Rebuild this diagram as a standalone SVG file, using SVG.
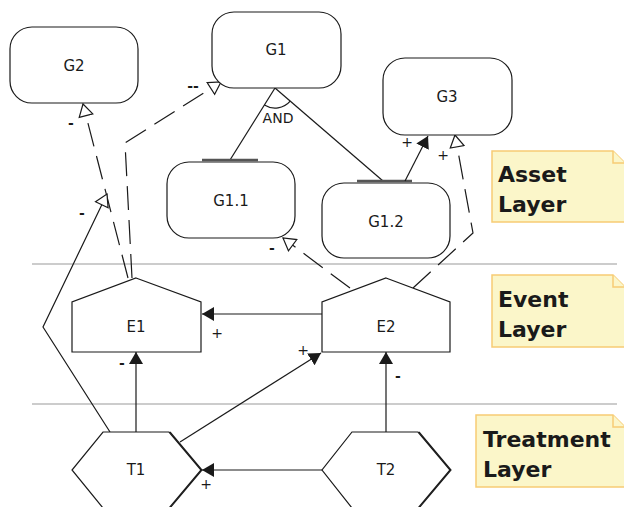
<svg xmlns="http://www.w3.org/2000/svg" width="624" height="507" viewBox="0 0 624 507">
  <style>
    .node { fill: #ffffff; stroke: #1a1a1a; stroke-width: 1.2; }
    .lbl { font-family: "DejaVu Sans", Verdana, sans-serif; font-size: 15px; fill: #1a1a1a; text-anchor: middle; dominant-baseline: central; }
    .sm { font-family: "DejaVu Sans", Verdana, sans-serif; font-size: 14px; fill: #1a1a1a; text-anchor: middle; dominant-baseline: central; }
    .neg { font-weight: bold; }
    .edge { fill: none; stroke: #1a1a1a; stroke-width: 1.2; }
    .dash { stroke-dasharray: 24 10; }
    .bar { stroke: #555555; stroke-width: 2.5; }
    .sep { stroke: #cccccc; stroke-width: 2; }
    .note { fill: #fbf6c9; stroke: #f7cc74; stroke-width: 1.5; }
    .notetxt { font-family: "DejaVu Sans", Verdana, sans-serif; font-size: 22px; font-weight: bold; fill: #1a1a1a; }
  </style>
  <defs>
    <marker id="filled" viewBox="0 0 12 14" refX="12" refY="7" markerWidth="12" markerHeight="14" markerUnits="userSpaceOnUse" orient="auto">
      <path d="M0,0 L12,7 L0,14 Z" fill="#1a1a1a"/>
    </marker>
    <marker id="hollow" viewBox="-1 -1 14 16" refX="12" refY="7" markerWidth="14" markerHeight="16" markerUnits="userSpaceOnUse" orient="auto">
      <path d="M0,0 L12,7 L0,14 Z" fill="#ffffff" stroke="#1a1a1a" stroke-width="1.2"/>
    </marker>
  </defs>

  <rect width="624" height="507" fill="#ffffff"/>

  <!-- layer separators -->
  <line class="sep" x1="32" y1="264" x2="617" y2="264"/>
  <line class="sep" x1="32" y1="404" x2="617" y2="404"/>

  <!-- layer notes -->
  <g id="note-asset">
    <path class="note" d="M492,151 H613 L625,163 V222 H492 Z"/>
    <path class="note" d="M613,151 V163 H625" fill="none"/>
    <text class="notetxt" x="498" y="182">Asset</text>
    <text class="notetxt" x="498" y="212">Layer</text>
  </g>
  <g id="note-event">
    <path class="note" d="M492,275 H613 L625,287 V347 H492 Z"/>
    <path class="note" d="M613,275 V287 H625" fill="none"/>
    <text class="notetxt" x="498" y="307">Event</text>
    <text class="notetxt" x="498" y="337">Layer</text>
  </g>
  <g id="note-treatment">
    <path class="note" d="M476,415 H613 L625,427 V487 H476 Z"/>
    <path class="note" d="M613,415 V427 H625" fill="none"/>
    <text class="notetxt" x="483" y="447">Treatment</text>
    <text class="notetxt" x="483" y="477">Layer</text>
  </g>

  <!-- connectors -->
  <g id="connectors">
    <!-- AND decomposition of G1 -->
    <line class="edge" x1="275" y1="88" x2="230" y2="160"/>
    <line class="edge" x1="275" y1="88" x2="383" y2="181"/>
    <path class="edge" d="M264.4,105 A20,20 0 0 0 290.2,101.1"/>
    <line class="edge bar" x1="202" y1="160" x2="258" y2="160"/>
    <line class="edge bar" x1="357" y1="181" x2="412" y2="181"/>

    <!-- G1.2 -> G3 -->
    <line class="edge" x1="405" y1="181" x2="428" y2="136" marker-end="url(#filled)"/>

    <!-- E1 -> G2 -->
    <line class="edge dash" x1="128" y1="278" x2="83" y2="104" marker-end="url(#hollow)"/>
    <!-- E1 -> G1 -->
    <polyline class="edge dash" points="132,278 125,143 221,82" marker-end="url(#hollow)"/>
    <!-- T1 -> (E1 -> G2) -->
    <polyline class="edge" points="110,432 43,327 107,194" marker-end="url(#hollow)"/>
    <!-- E2 -> G1.1 -->
    <line class="edge dash" x1="350" y1="288" x2="283" y2="238" marker-end="url(#hollow)"/>
    <!-- E2 -> G3 -->
    <polyline class="edge dash" points="413,288 473,233 455,135" marker-end="url(#hollow)"/>

    <!-- E2 -> E1 -->
    <line class="edge" x1="322" y1="314" x2="202" y2="314" marker-end="url(#filled)"/>
    <!-- T1 -> E1 -->
    <line class="edge" x1="136" y1="432" x2="136" y2="352" marker-end="url(#filled)"/>
    <!-- T1 -> E2 -->
    <line class="edge" x1="180" y1="442" x2="321" y2="353" marker-end="url(#filled)"/>
    <!-- T2 -> E2 -->
    <line class="edge" x1="386" y1="432" x2="386" y2="352" marker-end="url(#filled)"/>
    <!-- T2 -> T1 -->
    <line class="edge" x1="322" y1="470" x2="202" y2="470" marker-end="url(#filled)"/>

    <!-- connector labels -->
    <text class="sm neg" x="71" y="123">-</text>
    <text class="sm neg" x="193" y="86">--</text>
    <text class="sm neg" x="82" y="213">-</text>
    <text class="sm" x="278" y="118">AND</text>
    <text class="sm neg" x="272" y="248">-</text>
    <text class="sm" x="407" y="142">+</text>
    <text class="sm" x="443" y="155">+</text>
    <text class="sm" x="217" y="333">+</text>
    <text class="sm neg" x="122" y="363">-</text>
    <text class="sm" x="303" y="350">+</text>
    <text class="sm neg" x="398" y="376">-</text>
    <text class="sm" x="206" y="484">+</text>
  </g>

  <!-- goals -->
  <g id="G2">
    <rect class="node" x="10" y="27" width="128" height="76" rx="22"/>
    <text class="lbl" x="74" y="66">G2</text>
  </g>
  <g id="G1">
    <rect class="node" x="212" y="12" width="129" height="76" rx="22"/>
    <text class="lbl" x="276" y="50">G1</text>
  </g>
  <g id="G3">
    <rect class="node" x="383" y="58" width="129" height="77" rx="22"/>
    <text class="lbl" x="447" y="97">G3</text>
  </g>
  <g id="G1.1">
    <rect class="node" x="167" y="162" width="128" height="76" rx="22"/>
    <text class="lbl" x="231" y="201">G1.1</text>
  </g>
  <g id="G1.2">
    <rect class="node" x="322" y="183" width="128" height="75" rx="22"/>
    <text class="lbl" x="386" y="222">G1.2</text>
  </g>

  <!-- events -->
  <g id="E1">
    <path class="node" d="M136,278 L201,302 V352 H72 V302 Z"/>
    <text class="lbl" x="136" y="327">E1</text>
  </g>
  <g id="E2">
    <path class="node" d="M386,278 L450,302 V352 H322 V302 Z"/>
    <text class="lbl" x="386" y="327">E2</text>
  </g>

  <!-- treatments -->
  <g id="T1">
    <path class="node" d="M103,432 H169 L201,470 L169,508 H103 L72,470 Z"/>
    <path class="edge" d="M170,432 L202,470 L170,508" stroke-width="1"/>
    <text class="lbl" x="136" y="470">T1</text>
  </g>
  <g id="T2">
    <path class="node" d="M352,432 H418 L450,470 L418,508 H352 L322,470 Z"/>
    <path class="edge" d="M419,432 L451,470 L419,508" stroke-width="1"/>
    <text class="lbl" x="386" y="470">T2</text>
  </g>
</svg>
